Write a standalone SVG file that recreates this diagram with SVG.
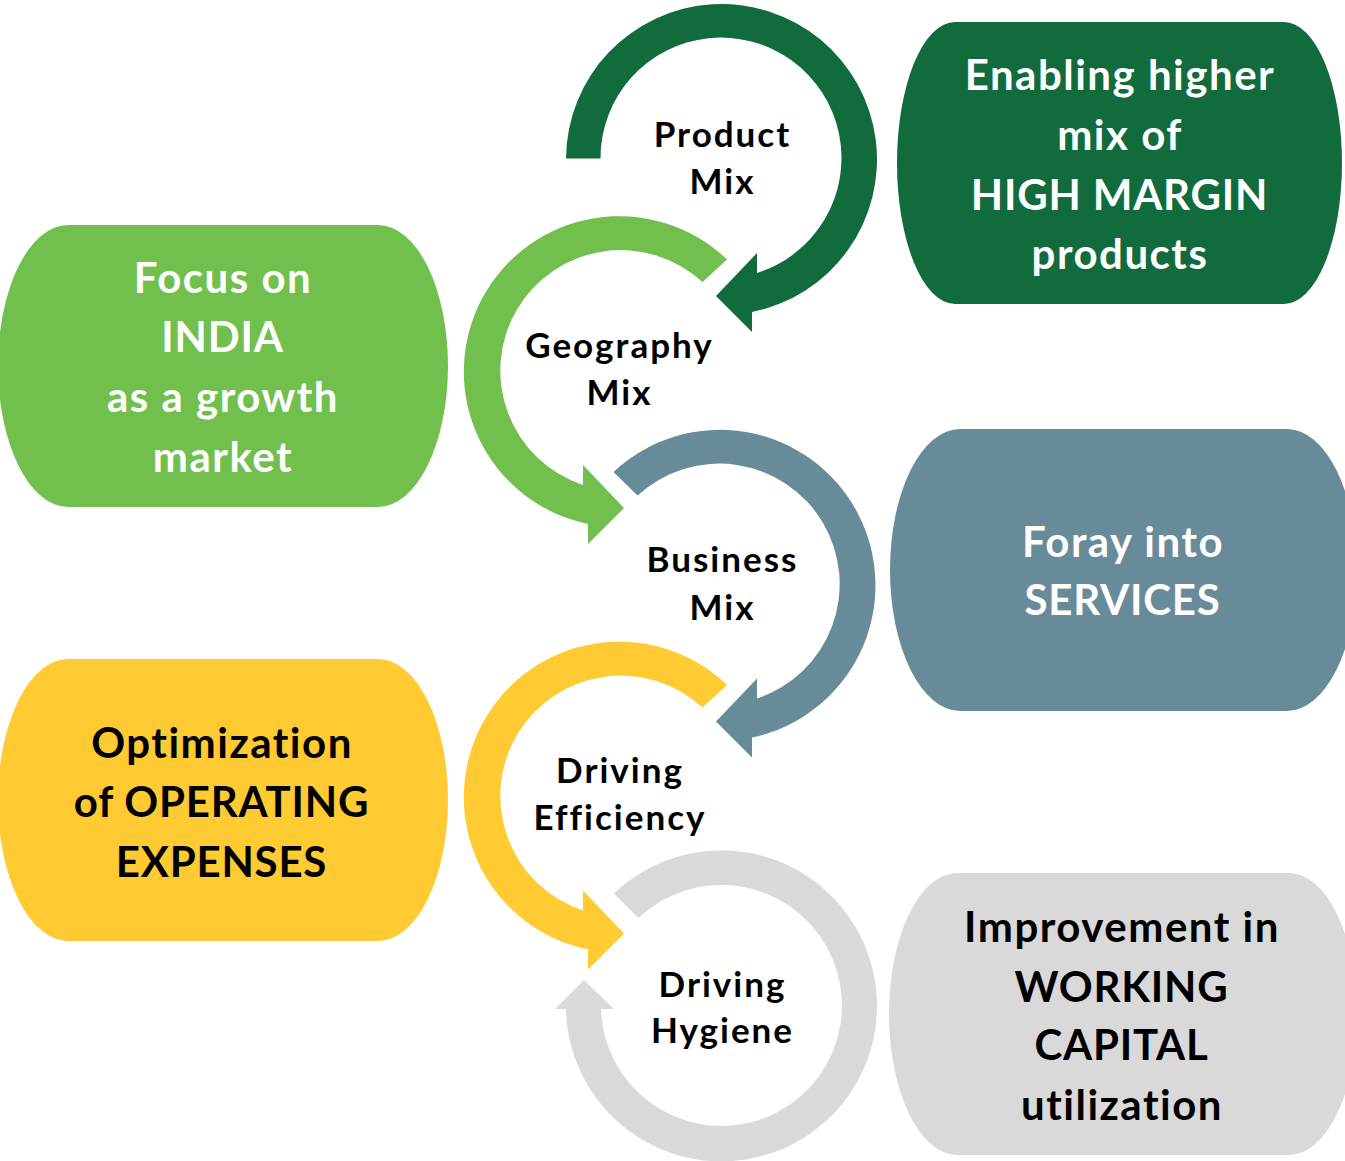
<svg xmlns="http://www.w3.org/2000/svg" width="1345" height="1161" viewBox="0 0 1345 1161">
<style>
  .box-txt { font-family: Lato, "Open Sans", "Liberation Sans", sans-serif; font-weight: 700; font-size: 42px; text-anchor: middle; letter-spacing: 1.5px; }
  .caps { letter-spacing: 0.8px; }
  .lbl { font-family: Lato, "Open Sans", "Liberation Sans", sans-serif; font-weight: 700; font-size: 35px; text-anchor: middle; fill: #000; letter-spacing: 2px; }
  .white { fill: #ffffff; }
  .black { fill: #000000; }
</style>
<rect x="0" y="0" width="1345" height="1161" fill="#ffffff"/>

<g id="connectors">
  <path id="arc-product" fill="#116b3c" d="M 566 158.5 A 155.5 155.5 0 1 1 752 312 L 752 332 L 716 296 L 757 253 L 757 273 A 120.5 120.5 0 1 0 600.5 158.5 Z"/>
  <path id="arc-geography" fill="#71bf4c" d="M 727 259.5 A 155.5 155.5 0 1 0 588 524 L 588 544 L 624 508 L 583 465 L 583 485 A 120.5 120.5 0 1 1 702.5 282 Z"/>
  <path id="arc-business" fill="#688b9a" d="M 613.5 472 A 155.5 155.5 0 1 1 752 737.5 L 752 757.5 L 716 721.5 L 757 678.5 L 757 698.5 A 120.5 120.5 0 1 0 637.5 495.5 Z"/>
  <path id="arc-efficiency" fill="#ffca32" d="M 727 685 A 155.5 155.5 0 1 0 588 949.5 L 588 969.5 L 624 933.5 L 583 890.5 L 583 910.5 A 120.5 120.5 0 1 1 702.5 707.5 Z"/>
  <path id="arc-hygiene" fill="#d9d9d9" d="M 614 893.5 A 155.5 155.5 0 1 1 566 1009 L 555 1009 L 584 980 L 614 1009 L 601 1009 A 120.5 120.5 0 1 0 638.5 918 Z"/>
</g>

<g id="node-product-mix">
  <text class="lbl" x="722.5" y="147">Product</text>
  <text class="lbl" x="722.5" y="194">Mix</text>
</g>
<g id="node-geography-mix">
  <text class="lbl" x="619.5" y="358">Geography</text>
  <text class="lbl" x="619.5" y="405">Mix</text>
</g>
<g id="node-business-mix">
  <text class="lbl" x="722.5" y="572">Business</text>
  <text class="lbl" x="722.5" y="620">Mix</text>
</g>
<g id="node-driving-efficiency">
  <text class="lbl" x="620" y="783">Driving</text>
  <text class="lbl" x="620" y="830">Efficiency</text>
</g>
<g id="node-driving-hygiene">
  <text class="lbl" x="722.5" y="997">Driving</text>
  <text class="lbl" x="722.5" y="1043">Hygiene</text>
</g>

<g id="box-high-margin">
  <rect x="897" y="22" width="445" height="282" rx="58" ry="141" fill="#116b3c"/>
  <text class="box-txt white" x="1120" y="90">Enabling higher</text>
  <text class="box-txt white" x="1120" y="150">mix of</text>
  <text class="box-txt caps white" x="1119.5" y="210">HIGH MARGIN</text>
  <text class="box-txt white" x="1120" y="269">products</text>
</g>
<g id="box-india">
  <rect x="-2" y="225" width="450" height="282" rx="70" ry="141" fill="#71bf4c"/>
  <text class="box-txt white" x="223" y="293">Focus on</text>
  <text class="box-txt caps white" x="222.5" y="352">INDIA</text>
  <text class="box-txt white" x="223" y="412">as a growth</text>
  <text class="box-txt white" x="223" y="472">market</text>
</g>
<g id="box-services">
  <rect x="890" y="429" width="467" height="282" rx="70" ry="141" fill="#688b9a"/>
  <text class="box-txt white" x="1123" y="557">Foray into</text>
  <text class="box-txt caps white" x="1122.5" y="615">SERVICES</text>
</g>
<g id="box-opex">
  <rect x="-2" y="659" width="450" height="282" rx="70" ry="141" fill="#ffca32"/>
  <text class="box-txt black" x="222" y="758">Optimization</text>
  <text class="box-txt caps black" x="221.5" y="817">of OPERATING</text>
  <text class="box-txt caps black" x="221.5" y="877">EXPENSES</text>
</g>
<g id="box-working-capital">
  <rect x="889" y="873" width="468" height="282" rx="68" ry="141" fill="#d9d9d9"/>
  <text class="box-txt black" x="1122" y="942">Improvement in</text>
  <text class="box-txt caps black" x="1121.5" y="1002">WORKING</text>
  <text class="box-txt caps black" x="1121.5" y="1060">CAPITAL</text>
  <text class="box-txt black" x="1122" y="1120">utilization</text>
</g>
</svg>
